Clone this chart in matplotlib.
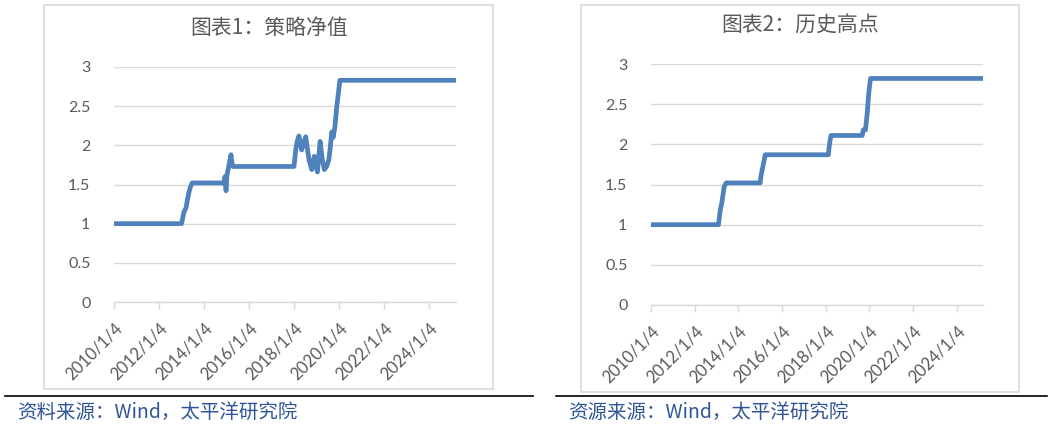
import matplotlib
matplotlib.use("Agg")
import matplotlib.pyplot as plt
from matplotlib.lines import Line2D
from matplotlib.patches import Rectangle

# ---------------- data ----------------
nav_years = [2010.0, 2013.0, 2013.06, 2013.11, 2013.2, 2013.26, 2013.33, 2013.4, 2013.47,
             2014.89, 2014.93, 2014.98, 2015.02, 2015.08, 2015.13, 2015.2, 2015.24, 2015.29,
             2018.0, 2018.08, 2018.14, 2018.22, 2018.34, 2018.45, 2018.52, 2018.67, 2018.79,
             2018.9, 2019.04, 2019.16, 2019.26, 2019.35, 2019.45, 2019.55, 2019.6, 2019.68,
             2019.74, 2019.82, 2019.9, 2019.97, 2020.04, 2025.2]
nav_values = [1.0, 1.0, 1.08, 1.15, 1.2, 1.3, 1.4, 1.47, 1.52,
              1.52, 1.6, 1.42, 1.62, 1.7, 1.78, 1.88, 1.78, 1.73,
              1.73, 1.95, 2.05, 2.12, 1.94, 2.05, 2.11, 1.81, 1.69,
              1.86, 1.66, 2.05, 1.81, 1.69, 1.73, 1.82, 1.94, 2.17,
              2.1, 2.24, 2.49, 2.66, 2.83, 2.83]

high_years = [2010.0, 2013.09, 2013.17, 2013.24, 2013.35, 2013.44,
              2015.0, 2015.03, 2015.12, 2015.23,
              2018.12, 2018.17, 2018.24,
              2019.67, 2019.72, 2019.82, 2019.9, 2019.97, 2020.05, 2025.2]
high_values = [1.0, 1.0, 1.18, 1.27, 1.47, 1.52,
               1.52, 1.6, 1.72, 1.87,
               1.87, 2.0, 2.11,
               2.11, 2.18, 2.18, 2.39, 2.64, 2.82, 2.82]

tick_years = [2010, 2012, 2014, 2016, 2018, 2020, 2022, 2024]
tick_labels = ["2010/1/4", "2012/1/4", "2014/1/4", "2016/1/4",
               "2018/1/4", "2020/1/4", "2022/1/4", "2024/1/4"]
y_ticks = [0, 0.5, 1, 1.5, 2, 2.5, 3]
y_labels = ["0", "0.5", "1", "1.5", "2", "2.5", "3"]

titles = ["图表1：策略净值", "图表2：历史高点"]
sources = ["资料来源：Wind，太平洋研究院", "资源来源：Wind，太平洋研究院"]

# ---------------- style ----------------
W, H = 1054, 428
plt.rcParams['font.family'] = ['Noto Sans CJK SC', 'DejaVu Sans']
LINE_C = '#4f81bd'
GRID_C = '#d9d9d9'
TXT_C = '#595959'
SRC_C = '#2e5597'

fig = plt.figure(figsize=(W / 100, H / 100), dpi=100)


def fx(px):
    return px / W


def fy(py):
    return 1 - py / H


# chart boxes
for (x0, x1, y0, y1) in [(44, 493, 5, 389), (581, 1019, 5, 392)]:
    fig.patches.append(Rectangle((fx(x0), fy(y1)), fx(x1 - x0), (y1 - y0) / H,
                                 transform=fig.transFigure, fill=False,
                                 edgecolor=GRID_C, linewidth=1.2))

# black separator lines
fig.lines.append(Line2D([fx(5), fx(533)], [fy(396), fy(396)], transform=fig.transFigure,
                        color='black', linewidth=1.2))
fig.lines.append(Line2D([fx(556), fx(1047)], [fy(396), fy(396)], transform=fig.transFigure,
                        color='black', linewidth=1.2))

axes_px = [(114, 456, 67, 302), (651, 983, 64, 305)]
series = [(nav_years, nav_values), (high_years, high_values)]
title_pos = [(269, 28), (800, 26)]
src_pos = [(17, 412), (568, 412)]

for i, ((x0, x1, y0, y1), (xs, vs)) in enumerate(zip(axes_px, series)):
    ax = fig.add_axes([fx(x0), fy(y1), fx(x1 - x0), (y1 - y0) / H])
    ax.plot(xs, vs, color=LINE_C, linewidth=3.4, solid_joinstyle='round',
            solid_capstyle='butt', zorder=3)
    ax.set_xlim(2010.0, 2025.2)
    ax.set_ylim(0, 3)
    ax.set_yticks(y_ticks)
    ax.set_yticklabels(y_labels, fontsize=11.5, color=TXT_C, family=['Lato', 'DejaVu Sans'])
    ax.set_xticks(tick_years)
    ax.set_xticklabels(tick_labels, fontsize=12, color=TXT_C, rotation=45,
                       ha='right', va='top', rotation_mode='anchor',
                       family=['Lato', 'DejaVu Sans'])
    ax.tick_params(axis='y', length=0, pad=17)
    ax.tick_params(axis='x', length=5, color=GRID_C, width=1, pad=8, direction='out')
    ax.grid(axis='y', color=GRID_C, linewidth=1.0)
    ax.set_axisbelow(True)
    for s in ['top', 'right', 'left']:
        ax.spines[s].set_visible(False)
    ax.spines['bottom'].set_color(GRID_C)
    ax.spines['bottom'].set_linewidth(1.0)
    ax.set_facecolor('none')

    tx, ty = title_pos[i]
    fig.text(fx(tx), fy(ty), titles[i], ha='center', va='center', fontsize=15,
             color=TXT_C)
    sx, sy = src_pos[i]
    fig.text(fx(sx), fy(sy), sources[i], ha='left', va='center', fontsize=14,
             color=SRC_C)

fig.savefig('out.png', dpi=100)
